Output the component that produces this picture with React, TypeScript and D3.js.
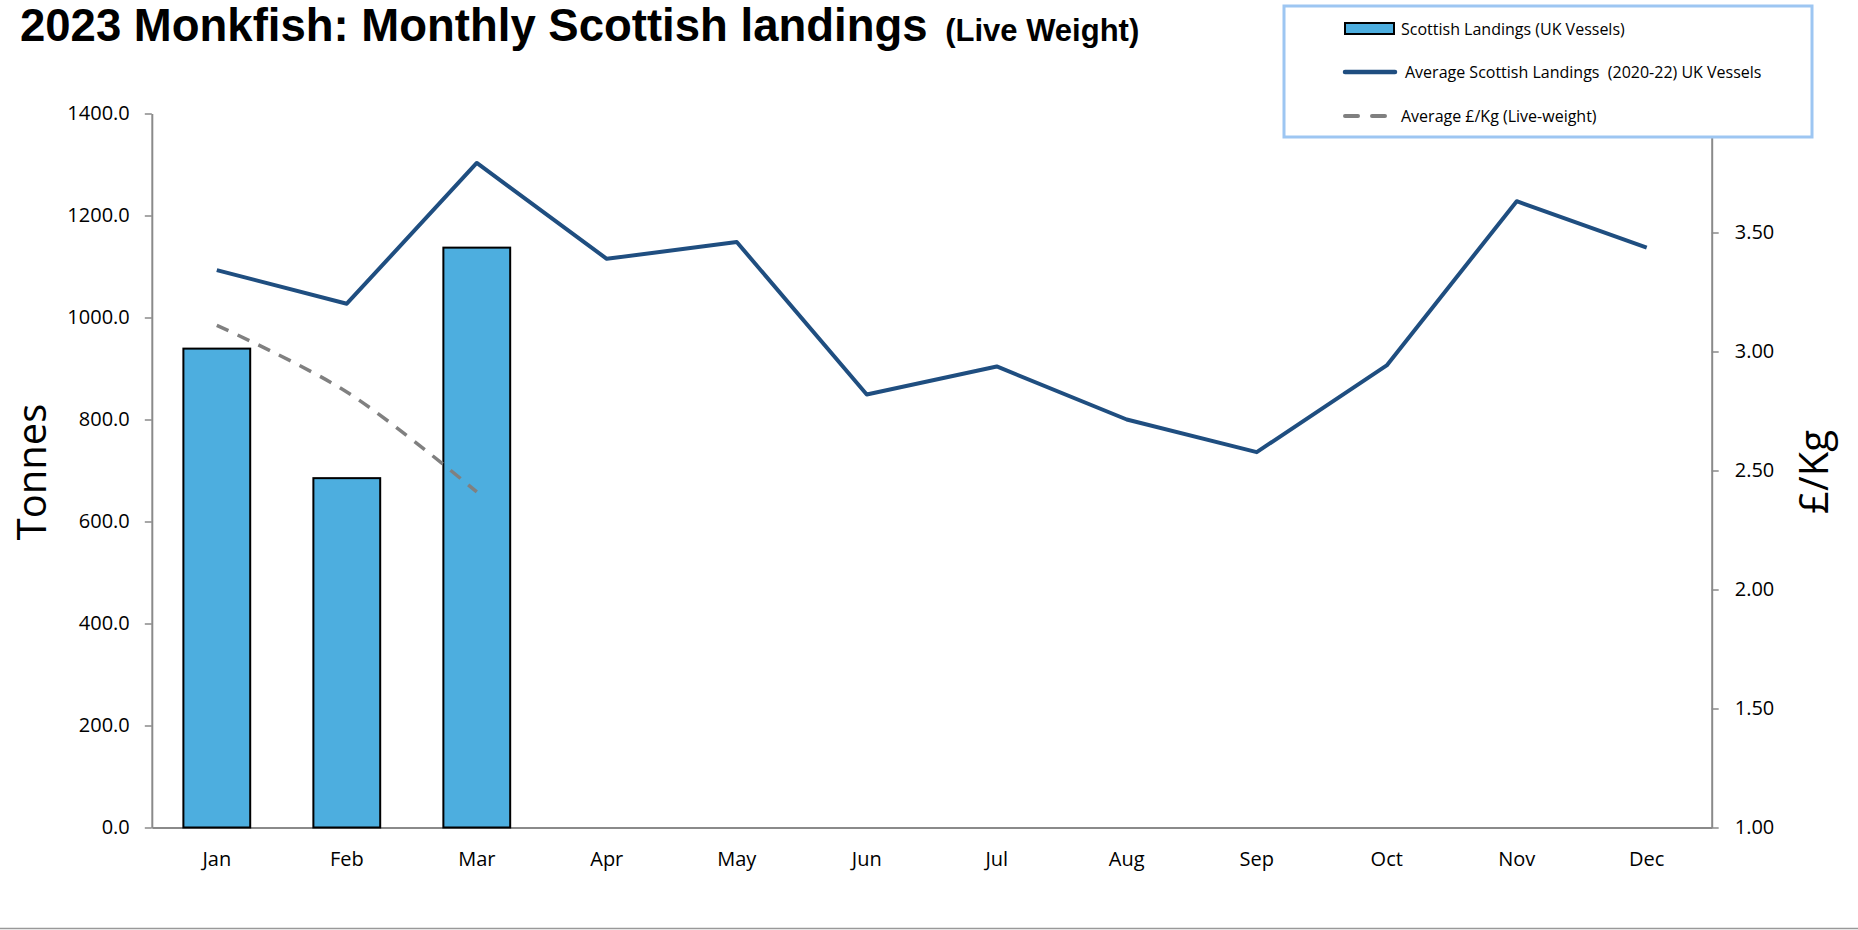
import * as React from 'react';
import * as d3 from 'd3';

const months = ['Jan', 'Feb', 'Mar', 'Apr', 'May', 'Jun', 'Jul', 'Aug', 'Sep', 'Oct', 'Nov', 'Dec'];
const landings2023 = [939, 685, 1137];
const avgLandings2020to22 = [1093, 1027, 1303, 1115, 1148, 849, 904, 800, 736, 906, 1228, 1137];
const avgPrice = [3.11, 2.83, 2.41];
const tonnesTicks = [0, 200, 400, 600, 800, 1000, 1200, 1400];
const priceTicks = [1, 1.5, 2, 2.5, 3, 3.5, 4];

const legendLabels = [
  'Scottish Landings (UK Vessels)',
  'Average Scottish Landings  (2020-22) UK Vessels',
  'Average £/Kg (Live-weight)',
];

const BAR = '#4DAEDF';
const NAVY = '#1F4E80';
const GREY = '#808080';
const AXIS = '#8a8a8a';
const FONT = "'Open Sans', 'Noto Sans', sans-serif";

export default function App() {
  const width = 1858;
  const height = 930;
  const plot = { left: 151.8, right: 1711.7, top: 113.5, bottom: 827.5 };

  const leftRef = React.useRef<SVGGElement | null>(null);
  const rightRef = React.useRef<SVGGElement | null>(null);
  const bottomRef = React.useRef<SVGGElement | null>(null);

  const x = d3
    .scaleBand()
    .domain(months)
    .range([plot.left, plot.right])
    .paddingInner(0.486)
    .paddingOuter(0.243);
  const cx = (m: string) => (x(m) as number) + x.bandwidth() / 2;

  const yL = d3.scaleLinear().domain([0, 1400]).range([plot.bottom, plot.top]);
  const yR = d3.scaleLinear().domain([1, 4]).range([plot.bottom, plot.top]);

  const avgLine = d3
    .line<number>()
    .x((_, i) => cx(months[i]))
    .y((d) => yL(d));

  // Excel draws the price series as a smoothed line
  const priceLine = d3
    .line<number>()
    .x((_, i) => cx(months[i]))
    .y((d) => yR(d))
    .curve(d3.curveCatmullRom.alpha(0.5));

  React.useEffect(() => {
    const style = (g: d3.Selection<SVGGElement, unknown, null, undefined>) => {
      g.selectAll('.domain').attr('stroke', AXIS).attr('stroke-width', 2);
      g.selectAll('.tick line').attr('stroke', AXIS).attr('stroke-width', 1.5);
      g.selectAll('.tick text')
        .attr('fill', '#000')
        .style('font-family', FONT)
        .style('font-size', '20px');
    };

    if (leftRef.current) {
      const g = d3.select(leftRef.current);
      g.call(
        d3
          .axisLeft(yL)
          .tickValues(tonnesTicks)
          .tickSize(7)
          .tickSizeOuter(0)
          .tickPadding(15)
          .tickFormat(d3.format('.1f') as any)
      );
      style(g);
    }
    if (rightRef.current) {
      const g = d3.select(rightRef.current);
      g.call(
        d3
          .axisRight(yR)
          .tickValues(priceTicks)
          .tickSize(7)
          .tickSizeOuter(0)
          .tickPadding(16)
          .tickFormat(d3.format('.2f') as any)
      );
      style(g);
    }
    if (bottomRef.current) {
      const g = d3.select(bottomRef.current);
      g.call(d3.axisBottom(x).tickSize(0).tickSizeOuter(0).tickPadding(24));
      style(g);
    }
  }, []);

  return (
    <svg
      width={width}
      height={height}
      style={{ position: 'absolute', left: 0, top: 0, background: '#fff' }}
    >
      <text
        x={20}
        y={41}
        style={{ fontFamily: "'Liberation Sans', Arial, sans-serif", fontWeight: 'bold' }}
      >
        <tspan fontSize={45.5}>2023 Monkfish: Monthly Scottish landings </tspan>
        <tspan fontSize={31} dx={5}>(Live Weight)</tspan>
      </text>

      <g ref={leftRef} transform={`translate(${plot.left},0)`} />
      <g ref={rightRef} transform={`translate(${plot.right},0)`} />
      <g ref={bottomRef} transform={`translate(0,${plot.bottom})`} />

      <text
        transform={`translate(46,472) rotate(-90)`}
        textAnchor="middle"
        style={{ fontFamily: FONT, fontSize: 40 }}
      >
        Tonnes
      </text>
      <text
        transform={`translate(1828,472) rotate(-90)`}
        textAnchor="middle"
        style={{ fontFamily: FONT, fontSize: 40 }}
      >
        £/Kg
      </text>

      {landings2023.map((v, i) => (
        <rect
          key={months[i]}
          x={x(months[i])}
          y={yL(v)}
          width={x.bandwidth()}
          height={yL(0) - yL(v)}
          fill={BAR}
          stroke="#000"
          strokeWidth={2}
        />
      ))}

      <path
        d={avgLine(avgLandings2020to22) || ''}
        fill="none"
        stroke={NAVY}
        strokeWidth={4}
        strokeLinejoin="round"
      />
      <path
        d={priceLine(avgPrice) || ''}
        fill="none"
        stroke={GREY}
        strokeWidth={3.5}
        strokeDasharray="13 10"
      />

      {/* legend */}
      <rect x={1284} y={6} width={528} height={131} fill="#fff" stroke="#9DC6F2" strokeWidth={3} />
      <rect x={1345} y={23} width={49} height={11} fill={BAR} stroke="#000" strokeWidth={2} />
      <line x1={1345} x2={1395} y1={72} y2={72} stroke={NAVY} strokeWidth={4.5} strokeLinecap="round" />
      <line
        x1={1345}
        x2={1385}
        y1={116}
        y2={116}
        stroke={GREY}
        strokeWidth={4}
        strokeDasharray="13 14"
        strokeLinecap="round"
      />
      {legendLabels.map((t, i) => (
        <text
          key={t}
          x={i === 1 ? 1405 : 1401}
          y={[29, 72, 116][i]}
          dy="0.35em"
          style={{ fontFamily: FONT, fontSize: 16, whiteSpace: 'pre' }}
        >
          {t}
        </text>
      ))}

      <line x1={0} x2={width} y1={928.5} y2={928.5} stroke="#999" strokeWidth={1.5} />
    </svg>
  );
}
